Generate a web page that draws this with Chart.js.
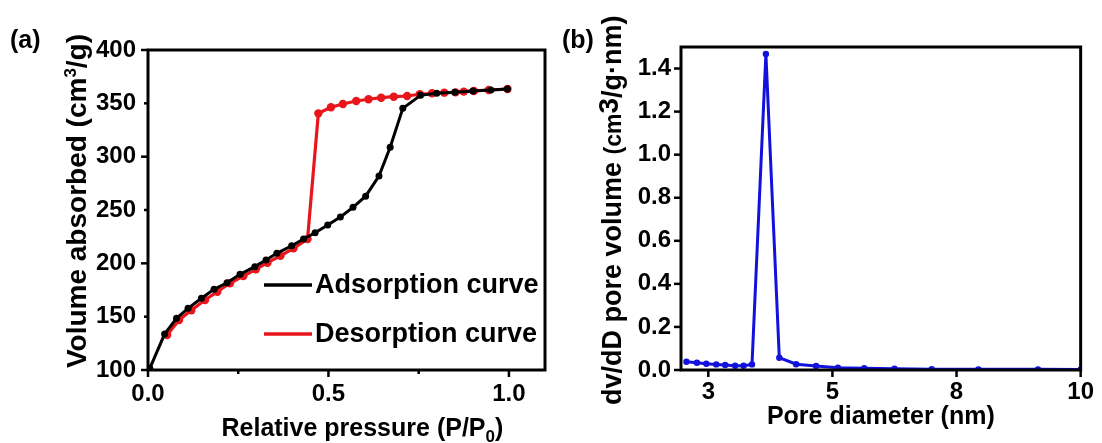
<!DOCTYPE html>
<html>
<head>
<meta charset="utf-8">
<script src="https://cdn.jsdelivr.net/npm/chart.js@4.4.0/dist/chart.umd.min.js"></script>
<style>
  html, body { margin: 0; padding: 0; background: #fff; }
  #wrap { position: relative; width: 1102px; height: 443px; overflow: hidden; }
  #cA { position: absolute; left: 0; top: 0; width: 560px; height: 443px; }
  #cB { position: absolute; left: 560px; top: 0; width: 542px; height: 443px; }
  .tag { position: absolute; font: bold 25px "Liberation Sans", Arial, sans-serif; line-height: 1; color: #000; }
</style>
</head>
<body>
<div id="wrap">
  <canvas id="cA" width="560" height="443"></canvas>
  <canvas id="cB" width="542" height="443"></canvas>
  <div class="tag" style="left:10px;top:27px">(a)</div>
  <div class="tag" style="left:562px;top:27px">(b)</div>
</div>
<script>
// (a) N2 isotherm
const adsX = [0.005, 0.046, 0.079, 0.111, 0.148, 0.183, 0.219, 0.255, 0.296, 0.327, 0.357, 0.398, 0.431, 0.463, 0.498, 0.533, 0.568, 0.603, 0.640, 0.671, 0.706, 0.755, 0.800, 0.850, 0.900, 0.950, 0.996];
const adsY = [101.6, 133.7, 148.4, 157.8, 167.2, 175.6, 181.8, 189.7, 196.9, 203.1, 209.4, 216.5, 222.8, 228.7, 235.9, 243.5, 252.5, 263.0, 281.9, 308.8, 345.3, 357.5, 359.5, 360.5, 361.5, 362.5, 363.4];
const desX = [0.053, 0.086, 0.120, 0.158, 0.192, 0.227, 0.264, 0.299, 0.331, 0.367, 0.403, 0.442, 0.472, 0.507, 0.540, 0.577, 0.611, 0.646, 0.681, 0.718, 0.753, 0.787, 0.821, 0.852, 0.875, 0.903, 0.944, 0.996];
const desY = [132.8, 146.9, 156.0, 165.6, 173.4, 181.3, 188.0, 194.4, 200.6, 207.0, 214.0, 222.8, 340.6, 346.3, 349.4, 352.2, 353.8, 355.3, 356.2, 356.9, 358.5, 359.4, 360.0, 360.3, 361.0, 361.6, 362.5, 363.4];
const xTicksA = [0, 0.5, 1.0];
const xMinorA = [0.25, 0.75];
const yTicksA = [100, 150, 200, 250, 300, 350, 400];

// (b) pore size distribution
const poreX = [2.06, 2.27, 2.46, 2.66, 2.84, 3.04, 3.21, 3.38, 3.66, 3.93, 4.27, 4.67, 5.11, 5.64, 6.25, 7.00, 7.94, 9.14, 10.0];
const poreY = [0.038, 0.034, 0.029, 0.026, 0.023, 0.020, 0.020, 0.026, 1.468, 0.057, 0.027, 0.019, 0.011, 0.008, 0.006, 0.004, 0.003, 0.003, 0.002];
const xTicksB = [2.5, 5, 7.5, 10];
const yTicksB = [0, 0.2, 0.4, 0.6, 0.8, 1.0, 1.2, 1.4];

const FONT = '"Liberation Sans", Arial, sans-serif';
const tickFont = { family: FONT, size: 24, weight: 'bold' };

function pts(xs, ys) {
  return xs.map((x, i) => ({ x: x, y: ys[i] }));
}

// draw a run of text pieces (different sizes / offsets) centred or from a start point
function drawPieces(ctx, pieces, x, y, vertical, anchor) {
  ctx.save();
  ctx.translate(x, y);
  if (vertical) ctx.rotate(-Math.PI / 2);
  ctx.fillStyle = '#000';
  ctx.textBaseline = 'alphabetic';
  ctx.textAlign = 'left';
  let total = 0;
  pieces.forEach(p => {
    ctx.font = (p.weight || 'bold') + ' ' + p.size + 'px ' + FONT;
    p.w = ctx.measureText(p.t).width;
    total += p.w;
  });
  let cx = anchor === 'start' ? 0 : -total / 2;
  pieces.forEach(p => {
    ctx.font = (p.weight || 'bold') + ' ' + p.size + 'px ' + FONT;
    ctx.fillText(p.t, cx, p.dy || 0);
    cx += p.w;
  });
  ctx.restore();
}

// frame + tick marks drawn from the scales
const framePlugin = {
  id: 'frame',
  afterDraw(chart, args, opts) {
    const ctx = chart.ctx;
    const ca = chart.chartArea;
    const xs = chart.scales.x, ys = chart.scales.y;
    ctx.save();
    ctx.strokeStyle = '#000';
    ctx.lineWidth = 2.5;
    ctx.lineCap = 'butt';
    const tick = (px, py, dx, dy) => {
      ctx.beginPath();
      ctx.moveTo(px, py);
      ctx.lineTo(px + dx, py + dy);
      ctx.stroke();
    };
    xs.ticks.forEach(t => tick(xs.getPixelForValue(t.value), ca.bottom, 0, 7));
    (opts.xMinor || []).forEach(v => tick(xs.getPixelForValue(v), ca.bottom, 0, 4));
    ys.ticks.forEach(t => {
      const major = opts.yMajor ? opts.yMajor(t.value) : true;
      tick(ca.left, ys.getPixelForValue(t.value), major ? -7 : -4, 0);
    });
    ctx.lineWidth = 3;
    ctx.strokeRect(ca.left, ca.top, ca.right - ca.left, ca.bottom - ca.top);
    ctx.restore();
  }
};

const titlesPlugin = {
  id: 'titles',
  afterDraw(chart, args, opts) {
    const ctx = chart.ctx;
    const ca = chart.chartArea;
    if (opts.x) drawPieces(ctx, opts.x.pieces, ca.left + (ca.right - ca.left) * opts.x.at, ca.bottom + opts.x.off, false, 'center');
    if (opts.y) {
      const yPos = opts.y.anchor === 'start' ? opts.y.start : (ca.top + ca.bottom) / 2 + (opts.y.shift || 0);
      drawPieces(ctx, opts.y.pieces, ca.left - opts.y.off, yPos, true, opts.y.anchor);
    }
  }
};

const legendPlugin = {
  id: 'boxLegend',
  afterDraw(chart, args, opts) {
    if (!opts.items) return;
    const ctx = chart.ctx;
    const ca = chart.chartArea;
    ctx.save();
    chart.data.datasets.forEach((ds, i) => {
      const y = ca.top + opts.items[i];
      const x0 = ca.left + opts.lineFrom;
      ctx.strokeStyle = ds.borderColor;
      ctx.lineWidth = 3.5;
      ctx.beginPath();
      ctx.moveTo(x0, y);
      ctx.lineTo(x0 + opts.lineLen, y);
      ctx.stroke();
      ctx.fillStyle = '#000';
      ctx.font = 'bold 27px ' + FONT;
      ctx.textBaseline = 'middle';
      ctx.fillText(ds.label, x0 + opts.lineLen + 3, y + 1);
    });
    ctx.restore();
  }
};

function fixedTicks(list) {
  return scale => { scale.ticks = list.map(v => ({ value: v })); };
}

new Chart(document.getElementById('cA'), {
  type: 'line',
  data: {
    datasets: [
      {
        label: 'Adsorption curve',
        data: pts(adsX, adsY),
        borderColor: '#000000',
        backgroundColor: '#000000',
        borderWidth: 3,
        pointRadius: 3.5,
        pointBorderWidth: 0,
        tension: 0
      },
      {
        label: 'Desorption curve',
        data: pts(desX, desY),
        borderColor: '#e8161b',
        backgroundColor: '#e8161b',
        borderWidth: 3.2,
        pointRadius: 4.2,
        pointBorderWidth: 0,
        tension: 0
      }
    ]
  },
  options: {
    responsive: false,
    animation: false,
    layout: { padding: { left: 0, right: 15, top: 50, bottom: 0 } },
    plugins: {
      legend: { display: false },
      tooltip: { enabled: false },
      frame: { xMinor: xMinorA, yMajor: v => v % 100 === 0 },
      titles: {
        x: { pieces: [{ t: 'Relative pressure (P/P', size: 25 }, { t: '0', size: 17, dy: 6 }, { t: ')', size: 25 }], at: 0.54, off: 66 },
        y: { pieces: [{ t: 'Volume absorbed (cm', size: 28 }, { t: '3', size: 17, dy: -10 }, { t: '/g)', size: 28 }], off: 62, shift: -9 }
      },
      boxLegend: { items: [235, 284], lineFrom: 116, lineLen: 48 }
    },
    scales: {
      x: {
        type: 'linear',
        min: 0,
        max: 1.1,
        afterBuildTicks: fixedTicks(xTicksA),
        afterFit: s => { s.height = 73; },
        grid: { display: false, drawTicks: false },
        border: { display: false },
        ticks: { font: tickFont, color: '#000', padding: 10, callback: v => v.toFixed(1) }
      },
      y: {
        type: 'linear',
        min: 100,
        max: 400,
        afterBuildTicks: fixedTicks(yTicksA),
        afterFit: s => { s.width = 148; },
        grid: { display: false, drawTicks: false },
        border: { display: false },
        ticks: { font: tickFont, color: '#000', padding: 12 }
      }
    }
  },
  plugins: [framePlugin, titlesPlugin, legendPlugin]
});

new Chart(document.getElementById('cB'), {
  type: 'line',
  data: {
    datasets: [
      {
        label: 'Pore size distribution',
        data: pts(poreX, poreY),
        borderColor: '#1212dc',
        backgroundColor: '#1212dc',
        borderWidth: 3,
        pointRadius: 3.2,
        pointBorderWidth: 0,
        tension: 0
      }
    ]
  },
  options: {
    responsive: false,
    animation: false,
    layout: { padding: { left: 0, right: 19, top: 47, bottom: 0 } },
    plugins: {
      legend: { display: false },
      tooltip: { enabled: false },
      frame: {},
      titles: {
        x: { pieces: [{ t: 'Pore diameter (nm)', size: 25 }], at: 0.5, off: 54 },
        y: {
          pieces: [
            { t: 'dv/dD pore volume ', size: 27 },
            { t: '(cm', size: 23 },
            { t: '3', size: 28, dy: -3 },
            { t: '/g\u00b7nm)', size: 27 }
          ],
          off: 60, anchor: 'start', start: 405
        }
      }
    },
    scales: {
      x: {
        type: 'linear',
        min: 1.95,
        max: 10,
        afterBuildTicks: fixedTicks(xTicksB),
        afterFit: s => { s.height = 73; },
        grid: { display: false, drawTicks: false },
        border: { display: false },
        ticks: { font: tickFont, color: '#000', padding: 8, callback: v => String(Math.round(v)) }
      },
      y: {
        type: 'linear',
        min: 0,
        max: 1.5,
        afterBuildTicks: fixedTicks(yTicksB),
        afterFit: s => { s.width = 121; },
        grid: { display: false, drawTicks: false },
        border: { display: false },
        ticks: { font: tickFont, color: '#000', padding: 10, callback: v => v.toFixed(1) }
      }
    }
  },
  plugins: [framePlugin, titlesPlugin]
});
</script>
</body>
</html>
